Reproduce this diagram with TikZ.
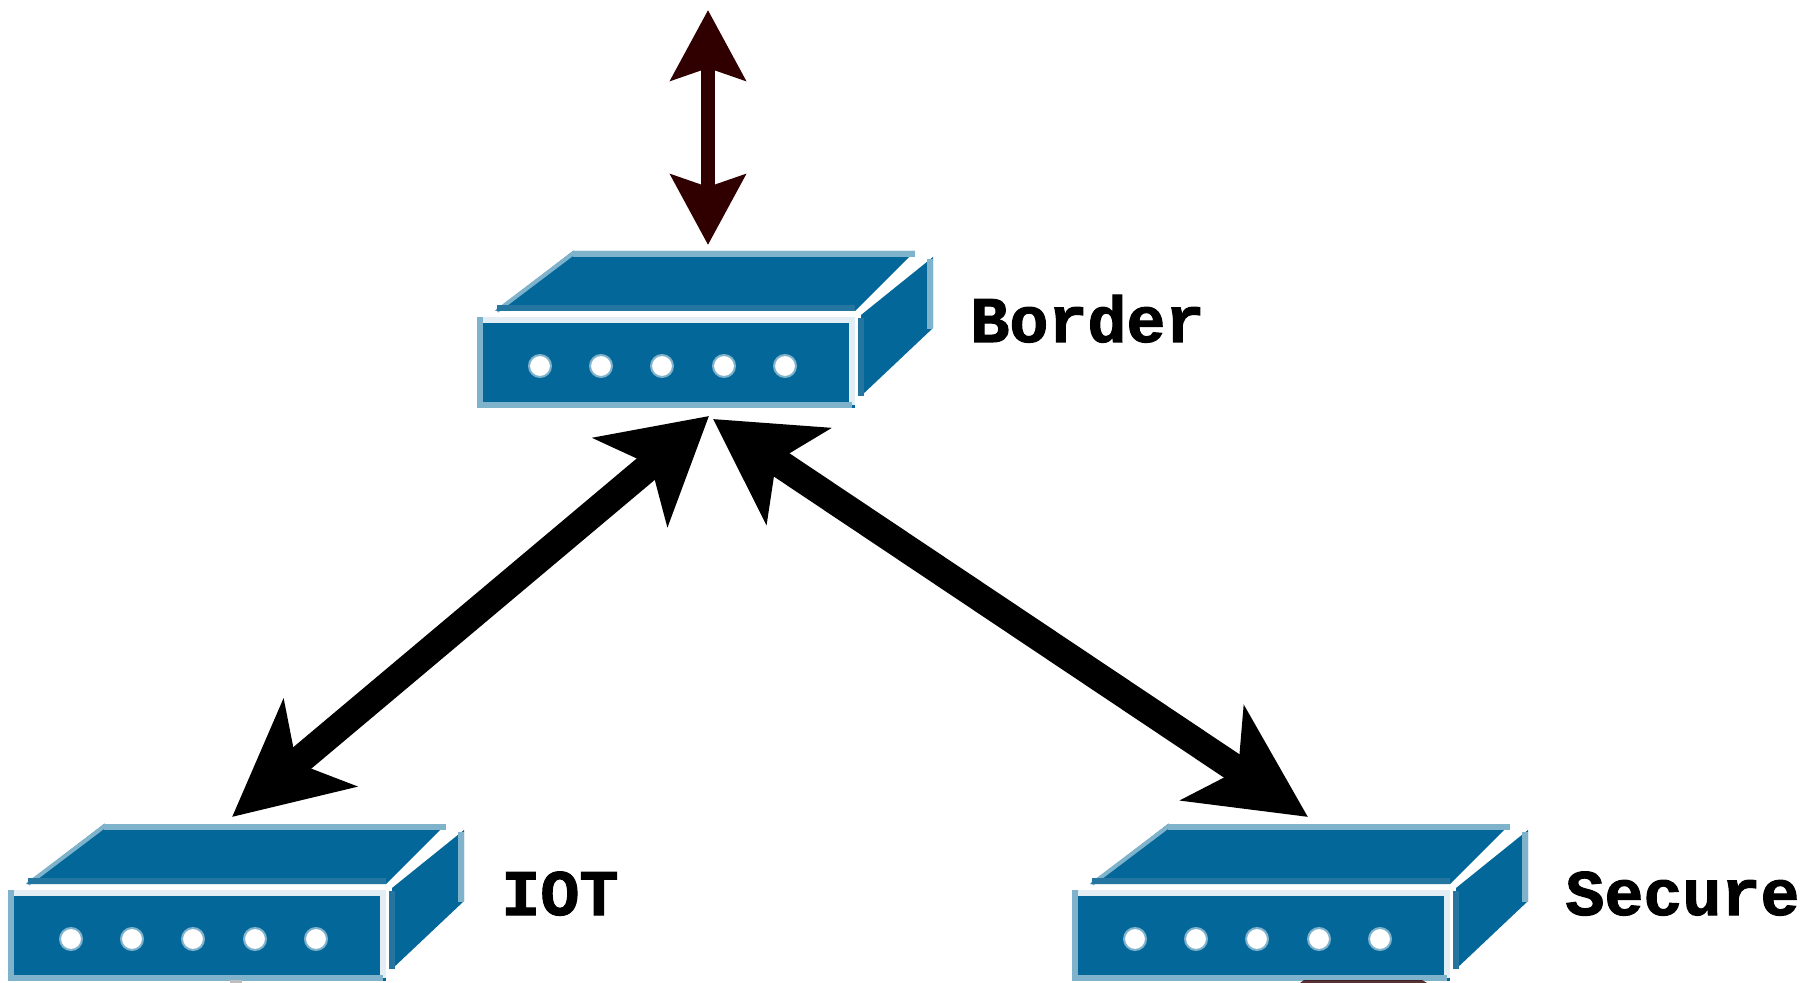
\documentclass[tikz,border=0pt]{standalone}
\usepackage{fontspec}
\setmainfont{Liberation Mono}[BoldFeatures={FakeBold=1.6}]
\usetikzlibrary{arrows.meta,calc}
\definecolor{devblue}{HTML}{04679A}
\definecolor{devlight}{HTML}{7FB2CB}
\definecolor{devpale}{HTML}{E2EEF3}
\definecolor{devmid}{HTML}{2475A0}
\definecolor{linkdark}{HTML}{300000}
\tikzset{
  front/.style={fill=devblue,minimum width=189pt,minimum height=45.5pt,inner sep=0pt,outer sep=0pt,anchor=north west},
  portdot/.style={circle,fill=white,draw=devlight,line width=1pt,minimum size=11pt,inner sep=0pt},
  devlabel/.style={font=\bfseries\fontsize{32.5pt}{36pt}\selectfont,anchor=base west,inner sep=0pt,text=black},
  edgeA/.style={line width=3pt,devlight,line cap=rect},
  edgeThin/.style={line width=2pt,devlight},
  edgeB/.style={line width=3pt,devpale,line cap=rect},
  edgeC/.style={line width=3pt,devmid},
  biglink/.style={line width=14pt,black,{Stealth[length=51pt,width=57pt,inset=13pt]}-{Stealth[length=57pt,width=56pt,inset=15pt]}},
  uplink/.style={line width=7pt,linkdark,{Stealth[length=35pt,width=37pt,inset=6pt]}-{Stealth[length=35pt,width=37pt,inset=6pt]}}
}
\newcommand{\netdevice}[4]{%
  \begin{scope}[shift={(#2,#3)}]
    \fill[devblue] (573,251) -- (915,251) -- (855,311) -- (495,311) -- cycle;
    \draw[edgeThin] (497,311) -- (575,252);
    \draw[edgeA] (576,254) -- (912,254);
    \draw[edgeC] (497,308) -- (855,308);
    \fill[devblue] (933,257) -- (933,328) -- (861,396) -- (861,315) -- cycle;
    \draw[edgeA] (930,262) -- (930,326);
    \draw[edgeC] (861,396) -- (861,318);
    \node[front] (#1) at (477,317) {};
    \draw[edgeB] (483,320) -- (852,320) -- (852,402);
    \draw[edgeA] (480,320) -- (480,405) -- (849,405);
    \node[portdot] (#1p1) at (540,366) {};
    \node[portdot] (#1p2) at (601,366) {};
    \node[portdot] (#1p3) at (662,366) {};
    \node[portdot] (#1p4) at (724,366) {};
    \node[portdot] (#1p5) at (785,366) {};
    \node[devlabel] (#1label) at (970,342) {#4};
  \end{scope}}
\begin{document}
\begin{tikzpicture}[x=0.5pt,y=-0.5pt]
  \useasboundingbox (0,0) rectangle (1818,983);
  \netdevice{border}{0}{0}{Border}
  \netdevice{iot}{-469}{573}{IOT}
  \netdevice{secure}{595}{573}{Secure}
  % free ends relative to the device nodes
  \coordinate (wan) at ($(border.north west)+(231,-307)$);
  \coordinate (borderup) at ($(border.north west)+(231,-72)$);
  \coordinate (borderdownL) at ($(border.south west)+(232,8)$);
  \coordinate (borderdownR) at ($(border.south west)+(236,11)$);
  \coordinate (iotup) at ($(iot.north west)+(224,-73)$);
  \coordinate (secureup) at ($(secure.north west)+(236,-73)$);
  \draw[uplink] (wan) -- (borderup);
  \draw[biglink] (borderdownL) -- (iotup);
  \draw[biglink] (borderdownR) -- (secureup);
  % cut-off shapes at the lower edge
  \fill[linkdark,opacity=.8] (1300,983) -- (1304,980) -- (1422,980) -- (1427,983) -- cycle;
  \fill[gray!50] (230,980) rectangle (242,983);
\end{tikzpicture}
\end{document}
